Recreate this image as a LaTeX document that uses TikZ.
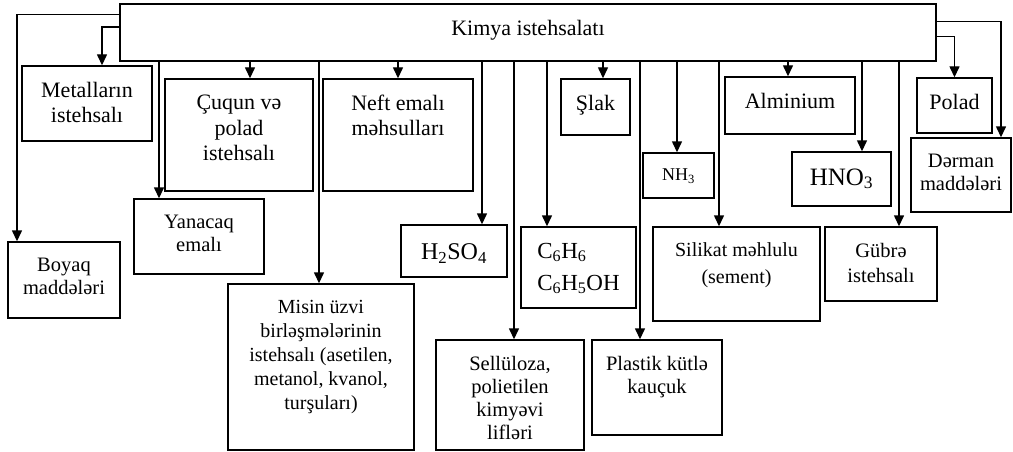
\documentclass[tikz,border=0pt]{standalone}
\usepackage{fontspec}
\setmainfont{Liberation Serif}
\usetikzlibrary{arrows.meta}
\newcommand{\fbig}{\fontsize{22}{25.5}\selectfont}
\newcommand{\fmid}{\fontsize{20.5}{23}\selectfont}
\newcommand{\tbox}[4][16pt]{\parbox[c][#3][t]{#2}{\centering\vspace*{#1}#4}}

\begin{document}
\begin{tikzpicture}[x=1pt, y=-1pt,
    box/.style={draw, line width=1.4pt, inner sep=0pt, font=\fbig},
    small/.style={box, font=\fmid},
    arr/.style={line width=1.4pt, -{Triangle[width=10pt, length=11pt]}}]
         \useasboundingbox (0, 0) rectangle (1013, 452);
         \node [box] (main) at (528, 32.5) {\tbox{816pt}{57pt}{Kimya istehsalatı}};
         \node [small] (boyaq) at (64, 280) {\tbox{112pt}{76pt}{Boyaq\\ maddələri}};
         \node [box] (metal) at (87, 103.5) {\tbox{130pt}{75pt}{Metalların\\ istehsalı}};
         \node [small] (yana) at (199, 236.5) {\tbox{130pt}{75pt}{Yanacaq\\ emalı}};
         \node [box] (cuqun) at (239, 135) {\tbox{148pt}{112pt}{Çuqun və\\ polad\\ istehsalı}};
         \node [small, font=\fontsize{20}{24}\selectfont] (misin) at (321, 367)
               {\tbox{186pt}{166pt}{Misin üzvi\\ birləşmələrinin\\ istehsalı (asetilen,\\ metanol, kvanol,\\ turşuları)}};
         \node [box] (neft) at (398, 135) {\tbox{150pt}{112pt}{Neft emalı\\ məhsulları}};
         \node [box, font=\fontsize{24}{28}\selectfont] (h2so4) at (454, 251)
               {\tbox[19pt]{106pt}{52pt}{H\textsubscript{2}SO\textsubscript{4}}};
         \node [small] (sellu) at (510, 395) {\tbox{148pt}{110pt}{Sellüloza,\\ polietilen\\ kimyəvi\\ lifləri}};
         \node [box, font=\fontsize{23}{32}\selectfont] (benzol) at (578.5, 267.5)
               {\tbox[8.6pt]{115pt}{81pt}{\begin{tabular}[t]{@{}l@{}}C\textsubscript{6}H\textsubscript{6}\\ C\textsubscript{6}H\textsubscript{5}OH\end{tabular}}};
         \node [box] (slak) at (595.5, 107) {\tbox{69pt}{56pt}{Şlak}};
         \node [small] (plastik) at (657, 387.5) {\tbox{130pt}{95pt}{Plastik kütlə\\ kauçuk}};
         \node [box, font=\fontsize{18}{21}\selectfont] (nh3) at (678.5, 175.5)
               {\tbox{71pt}{45pt}{NH\textsubscript{3}}};
         \node [small, font=\fontsize{20}{27}\selectfont] (silikat) at (736.5, 274)
               {\tbox{167pt}{94pt}{Silikat məhlulu\\ (sement)}};
         \node [box] (alum) at (790, 105.5) {\tbox{130pt}{57pt}{Alminium}};
         \node [box, font=\fontsize{25}{29}\selectfont] (hno3) at (841.5, 179)
               {\tbox[16.5pt]{99pt}{54pt}{HNO\textsubscript{3}}};
         \node [small, font=\fontsize{20.5}{25}\selectfont] (gubre) at (881, 264) {\tbox{112pt}{74pt}{Gübrə\\ istehsalı}};
         \node [box] (polad) at (954.5, 105.5) {\tbox{75pt}{55pt}{Polad}};
         \node [small] (derman) at (961, 175) {\tbox{100pt}{74pt}{Dərman\\ maddələri}};
         \draw [arr] ([yshift=18.2pt]main.west) -| ([xshift=-47pt]boyaq.north);
         \draw [arr] ([yshift=5.4pt]main.west) -| ([xshift=15pt]metal.north);
         \draw [arr] ([xshift=-40pt]yana.north |- main.south) -- ([xshift=-40pt]yana.north);
         \draw [arr] ([xshift=11pt]cuqun.north |- main.south) -- ([xshift=11pt]cuqun.north);
         \draw [arr] ([xshift=-2pt]misin.north |- main.south) -- ([xshift=-2pt]misin.north);
         \draw [arr] (neft.north |- main.south) -- (neft.north);
         \draw [arr] ([xshift=28pt]h2so4.north |- main.south) -- ([xshift=28pt]h2so4.north);
         \draw [arr] ([xshift=4pt]sellu.north |- main.south) -- ([xshift=4pt]sellu.north);
         \draw [arr] ([xshift=-31.5pt]benzol.north |- main.south) -- ([xshift=-31.5pt]benzol.north);
         \draw [arr] ([xshift=7.5pt]slak.north |- main.south) -- ([xshift=7.5pt]slak.north);
         \draw [arr] ([xshift=-17pt]plastik.north |- main.south) -- ([xshift=-17pt]plastik.north);
         \draw [arr] ([xshift=-1.5pt]nh3.north |- main.south) -- ([xshift=-1.5pt]nh3.north);
         \draw [arr] ([xshift=-17.5pt]silikat.north |- main.south) -- ([xshift=-17.5pt]silikat.north);
         \draw [arr] ([xshift=-2pt]alum.north |- main.south) -- ([xshift=-2pt]alum.north);
         \draw [arr] ([xshift=20.5pt]hno3.north |- main.south) -- ([xshift=20.5pt]hno3.north);
         \draw [arr] ([xshift=18pt]gubre.north |- main.south) -- ([xshift=18pt]gubre.north);
         \draw [arr] ([yshift=-4pt]main.east) -| (polad.north);
         \draw [arr] ([yshift=11pt]main.east) -| ([xshift=40pt]derman.north);
 \end{tikzpicture}
\end{document}
